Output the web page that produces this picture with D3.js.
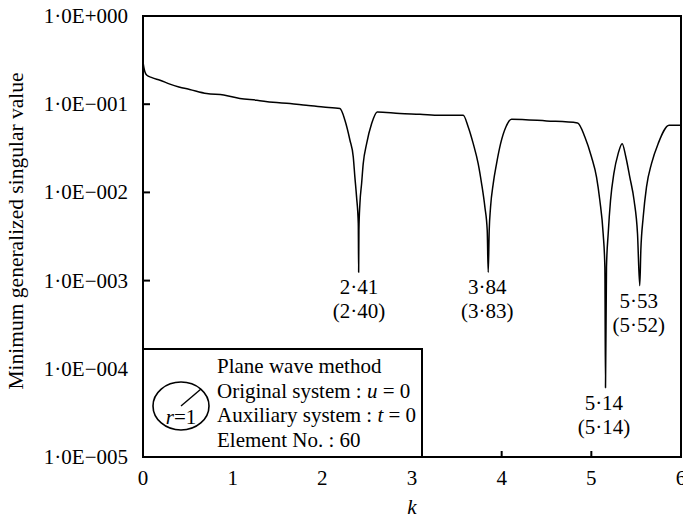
<!DOCTYPE html>
<html>
<head>
<meta charset="utf-8">
<script src="https://cdnjs.cloudflare.com/ajax/libs/d3/7.8.5/d3.min.js"></script>
<style>
  body { margin: 0; background: #fff; }
  text { font-family: "Liberation Serif", "Times New Roman", serif; fill: #000; }
</style>
</head>
<body>
<svg id="plot1" width="683" height="522"></svg>
<script>
// minimum generalized singular value vs k
var kValues = [0.00, 0.01, 0.04, 0.10, 0.19, 0.30, 0.40, 0.52, 0.71, 0.90, 1.08, 1.27, 1.45, 1.64, 1.82, 2.01,
  2.196, 2.252, 2.308, 2.345, 2.363, 2.382, 2.401, 2.405, 2.408, 2.419, 2.438, 2.456, 2.494, 2.55, 2.612,
  2.865, 3.088, 3.311, 3.571,
  3.627, 3.683, 3.738, 3.776, 3.813, 3.839, 3.85, 3.861, 3.876, 3.906, 3.943, 3.988, 4.047, 4.11,
  4.50, 4.846,
  4.928, 5.002, 5.058, 5.095, 5.132, 5.151, 5.158, 5.169, 5.188, 5.214, 5.251, 5.299, 5.344,
  5.385, 5.429, 5.477, 5.515, 5.54, 5.552, 5.578, 5.615, 5.671, 5.745, 5.867, 6.0];
var sigmaValues = [0.30, 0.26, 0.214, 0.20, 0.187, 0.169, 0.157, 0.147, 0.132, 0.127, 0.116, 0.111, 0.105, 0.102, 0.097, 0.093,
  0.0893, 0.0658, 0.039, 0.0252, 0.0149, 0.00885, 0.0044, 0.00124, 0.0037, 0.00744, 0.0126, 0.0212, 0.0357, 0.0603, 0.0818,
  0.0784, 0.077, 0.075, 0.075,
  0.0552, 0.0357, 0.0212, 0.0126, 0.0068, 0.0037, 0.00124, 0.0037, 0.0068, 0.0126, 0.0212, 0.0357, 0.0552, 0.0676,
  0.0646, 0.0613,
  0.0425, 0.0252, 0.0149, 0.0081, 0.0034, 0.00142, 0.000061, 0.00142, 0.0034, 0.0081, 0.0163, 0.0275, 0.0357,
  0.0252, 0.0149, 0.0081, 0.0034, 0.000877, 0.0022, 0.0052, 0.0115, 0.0212, 0.0357, 0.0577, 0.0577];

var xTicks = [0, 1, 2, 3, 4, 5, 6];
var yTicks = [1, 1e-1, 1e-2, 1e-3, 1e-4, 1e-5];
var yTickLabels = ["1\u00b70E+000", "1\u00b70E\u2212001", "1\u00b70E\u2212002", "1\u00b70E\u2212003", "1\u00b70E\u2212004", "1\u00b70E\u2212005"];

// dip annotations: position of the minimum, computed value, (exact value)
var dipK = [2.41, 3.84, 5.14, 5.53];
var dipMin = [0.00124, 0.00124, 0.000061, 0.000877];
var dipLabels = ["2\u00b741", "3\u00b784", "5\u00b714", "5\u00b753"];
var dipExact = ["(2\u00b740)", "(3\u00b783)", "(5\u00b714)", "(5\u00b752)"];

var legendLines = ["Plane wave method", "Original system :  ", "Auxiliary system : ", "Element No. : 60"];

var fs = 21; // font size used everywhere

var svg = d3.select("#plot1"),
    margin = {top: 16, right: 2, bottom: 65, left: 143},
    width = +svg.attr("width") - margin.left - margin.right,
    height = +svg.attr("height") - margin.top - margin.bottom;

var x = d3.scaleLinear().domain([0, 6]).range([0, width]),
    y = d3.scaleLog().domain([1e-5, 1]).range([height, 0]);

var g = svg.append("g")
    .attr("transform", "translate(" + margin.left + "," + margin.top + ")");

// the curve
var pts = kValues.map(function(k, i) { return [k, sigmaValues[i]]; });
g.append("path")
    .datum(pts)
    .attr("fill", "none")
    .attr("stroke", "#000")
    .attr("stroke-width", 1.5)
    .attr("stroke-linejoin", "round")
    .attr("d", d3.line()
        .curve(d3.curveMonotoneX)
        .x(function(d){ return x(d[0]); })
        .y(function(d){ return y(d[1]); }));

// frame
g.append("rect")
    .attr("width", width).attr("height", height)
    .attr("fill", "none").attr("stroke", "#000").attr("stroke-width", 2);

// x ticks (inward) and labels
g.selectAll(".xtick").data(xTicks).enter().append("line")
    .attr("x1", function(d){ return x(d); }).attr("x2", function(d){ return x(d); })
    .attr("y1", height).attr("y2", height - 6)
    .attr("stroke", "#000").attr("stroke-width", 2);
g.selectAll(".xlab").data(xTicks).enter().append("text")
    .attr("x", function(d){ return x(d); })
    .attr("y", height + 28)
    .attr("text-anchor", "middle")
    .attr("font-size", fs)
    .text(function(d){ return d; });

// y ticks (inward) and labels
g.selectAll(".ytick").data(yTicks).enter().append("line")
    .attr("x1", 0).attr("x2", 7)
    .attr("y1", function(d){ return y(d); }).attr("y2", function(d){ return y(d); })
    .attr("stroke", "#000").attr("stroke-width", 2);
g.selectAll(".ylab").data(yTicks).enter().append("text")
    .attr("x", -15)
    .attr("y", function(d){ return y(d) + 7; })
    .attr("text-anchor", "end")
    .attr("font-size", fs)
    .text(function(d, i){ return yTickLabels[i]; });

// axis titles
svg.append("text")
    .attr("transform", "translate(23,231) rotate(-90)")
    .attr("text-anchor", "middle")
    .attr("font-size", 21.5)
    .text("Minimum generalized singular value");
svg.append("text")
    .attr("x", margin.left + width / 2)
    .attr("y", 514)
    .attr("text-anchor", "middle")
    .attr("font-size", fs)
    .attr("font-style", "italic")
    .text("k");

// dip labels
dipK.forEach(function(k, i) {
    var yy = y(dipMin[i]) + 22;
    g.append("text").attr("x", x(k)).attr("y", yy)
        .attr("text-anchor", "middle").attr("font-size", fs).text(dipLabels[i]);
    g.append("text").attr("x", x(k)).attr("y", yy + 24)
        .attr("text-anchor", "middle").attr("font-size", fs).text(dipExact[i]);
});

// legend box
var lg = g.append("g").attr("transform", "translate(0," + (height - 108) + ")");
lg.append("rect")
    .attr("width", 279).attr("height", 108)
    .attr("fill", "#fff").attr("stroke", "#000").attr("stroke-width", 2);
lg.append("ellipse")
    .attr("cx", 38).attr("cy", 57).attr("rx", 28).attr("ry", 24)
    .attr("fill", "none").attr("stroke", "#000").attr("stroke-width", 1.6);
lg.append("line")
    .attr("x1", 38).attr("y1", 57).attr("x2", 58).attr("y2", 40)
    .attr("stroke", "#000").attr("stroke-width", 1.4);
var rt = lg.append("text").attr("x", 38).attr("y", 75).attr("text-anchor", "middle").attr("font-size", fs);
rt.append("tspan").attr("font-style", "italic").text("r");
rt.append("tspan").text("=1");

var lt = lg.selectAll(".leg").data(legendLines).enter().append("text")
    .attr("x", 74)
    .attr("y", function(d, i){ return 24 + i * 24.5; })
    .attr("font-size", fs)
    .text(function(d){ return d; });
d3.select(lt.nodes()[1]).append("tspan").attr("font-style", "italic").text("u");
d3.select(lt.nodes()[1]).append("tspan").text(" = 0");
d3.select(lt.nodes()[2]).append("tspan").attr("font-style", "italic").text("t");
d3.select(lt.nodes()[2]).append("tspan").text(" = 0");
</script>
</body>
</html>
